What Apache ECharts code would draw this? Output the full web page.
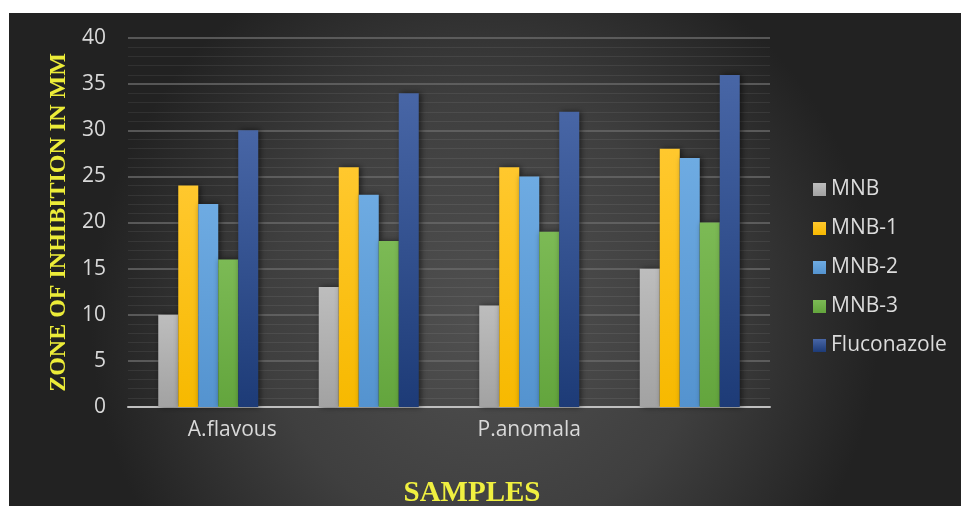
<!DOCTYPE html>
<html>
<head>
<meta charset="utf-8">
<script src="https://cdn.jsdelivr.net/npm/echarts@6/dist/echarts.min.js"></script>
<style>
  html, body { margin: 0; padding: 0; background: #ffffff; }
  #chart { position: absolute; left: 9px; top: 13px; width: 952px; height: 493px; }
</style>
</head>
<body>
<div id="chart"></div>
<script>
// Zone of inhibition (mm) for each sample and compound
const categories = ['A.flavous', '', 'P.anomala', ''];
const seriesNames = ['MNB', 'MNB-1', 'MNB-2', 'MNB-3', 'Fluconazole'];
const mnb = [10, 13, 11, 15];
const mnb1 = [24, 26, 26, 28];
const mnb2 = [22, 23, 25, 27];
const mnb3 = [16, 18, 19, 20];
const fluconazole = [30, 34, 32, 36];
const yTicks = { min: 0, max: 40, interval: 5 };

const values = [mnb, mnb1, mnb2, mnb3, fluconazole];
const palette = [
  ['#bdbdbd', '#a2a2a2'],
  ['#ffc82e', '#f7b900'],
  ['#6eabe2', '#5493cf'],
  ['#7cba55', '#63a53d'],
  ['#4866a6', '#1d3b77']
];

const chart = echarts.init(document.getElementById('chart'));

const series = seriesNames.map((name, i) => ({
  name: name,
  type: 'bar',
  data: values[i],
  barWidth: 20,
  barGap: '0%',
  itemStyle: {
    color: new echarts.graphic.LinearGradient(0, 0, 0, 1, [
      { offset: 0, color: palette[i][0] },
      { offset: 1, color: palette[i][1] }
    ]),
    shadowColor: 'rgba(0,0,0,0.55)',
    shadowBlur: 6,
    shadowOffsetX: 2
  }
}));

chart.setOption({
  backgroundColor: {
    type: 'radial', x: 0.5, y: 0.62, r: 0.8,
    colorStops: [
      { offset: 0, color: '#505050' },
      { offset: 0.55, color: '#3f3f3f' },
      { offset: 1, color: '#222222' }
    ]
  },
  animation: false,
  color: palette.map(p => p[1]),
  grid: { left: 119, right: 191, top: 25, bottom: 99, outerBoundsMode: 'none', containLabel: false },
  legend: {
    orient: 'vertical',
    left: 799,
    top: 161,
    itemWidth: 13,
    itemHeight: 13,
    itemGap: 18,
    icon: 'rect',
    textStyle: { color: '#dcdcdc', fontSize: 21, fontFamily: 'Open Sans' },
    data: seriesNames
  },
  xAxis: {
    type: 'category',
    data: categories,
    name: 'SAMPLES',
    nameLocation: 'middle',
    nameGap: 72,
    nameTextStyle: {
      color: '#f0f040', fontSize: 29, fontWeight: 'bold',
      fontFamily: 'Liberation Serif', padding: [0, 0, 0, 46]
    },
    axisLine: { lineStyle: { color: '#bfbfbf', width: 2 } },
    axisTick: { show: false },
    axisLabel: {
      interval: 0,
      margin: 13,
      color: '#d9d9d9',
      fontSize: 21,
      fontFamily: 'Open Sans',
      formatter: (v, i) => (i === 0 ? '{off|' + v + '}' : v),
      rich: {
        off: { padding: [0, 0, 0, 48], color: '#d9d9d9', fontSize: 21, fontFamily: 'Open Sans' }
      }
    }
  },
  yAxis: {
    type: 'value',
    min: yTicks.min,
    max: yTicks.max,
    interval: yTicks.interval,
    name: 'ZONE OF INHIBITION IN MM',
    nameLocation: 'middle',
    nameGap: 57,
    nameTextStyle: {
      color: '#ecec38', fontSize: 24, fontWeight: 'bold', fontFamily: 'Liberation Serif'
    },
    axisLine: { show: false },
    axisTick: { show: false },
    axisLabel: { margin: 22, color: '#d9d9d9', fontSize: 21, fontFamily: 'Open Sans' },
    splitLine: { lineStyle: { color: '#6a6a6a', width: 1.5 } },
    minorTick: { show: false, splitNumber: 5 },
    minorSplitLine: { show: true, lineStyle: { color: 'rgba(255,255,255,0.07)', width: 1 } }
  },
  series: series
});
</script>
</body>
</html>
